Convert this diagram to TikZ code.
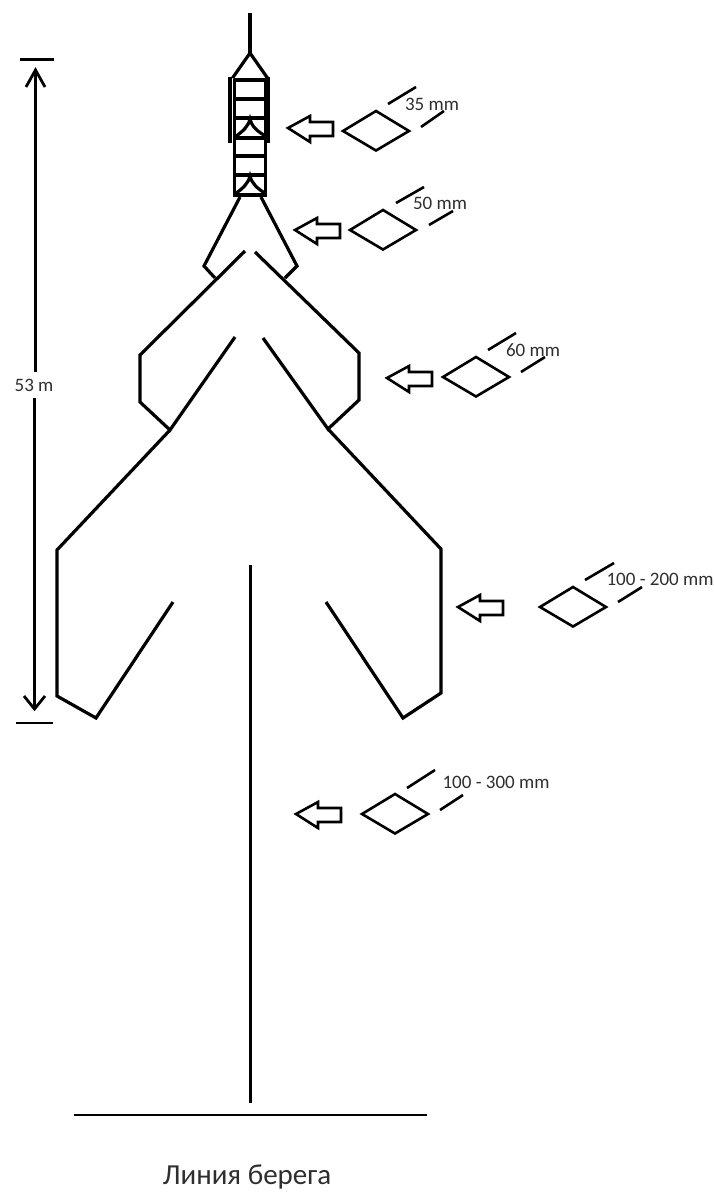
\documentclass[tikz,border=0pt]{standalone}
\usepackage{fontspec}
\setmainfont{Carlito}
\definecolor{labelgray}{HTML}{2E2E2E}
\tikzset{
  net/.style={line width=3.2pt,line join=miter,black},
  fine/.style={line width=2.7pt,black},
  gauge/.style={line width=2.6pt,line join=miter,black},
  sizelabel/.style={font=\fontsize{19}{22}\selectfont,text=labelgray,inner sep=0pt},
}
% #1 arrow tip, #2 diamond left corner, #3-#6 slash ends
\newcommand{\gaugeset}[6]{%
  \draw[gauge] #1 ++(0,0) -- ++(22,-12) -- ++(0,6) -- ++(23,0) -- ++(0,14) -- ++(-23,0) -- ++(0,6) -- cycle;
  \draw[gauge] #2 -- ++(33,-20) -- ++(33,20) -- ++(-33,19.5) -- cycle;
  \draw[gauge] #3 -- #4;
  \draw[gauge] #5 -- #6;
}
\begin{document}
\begin{tikzpicture}[x=1pt,y=-1pt]
\useasboundingbox (0,0) rectangle (714,1192);
% head rope
\draw[net] (250,13) -- (250,53);
\draw[net] (232.5,78) -- (250,53) -- (267.5,78);
% ladder
\draw[net] (234.5,79) -- (234.5,195) -- (265.5,195) -- (265.5,79);
\draw[line width=4.2pt] (230,77) -- (230,143);
\draw[line width=5pt] (267.5,77) -- (267.5,143);
\foreach \ry in {80,99,118,138,156,175}{\draw[net] (234,\ry) -- (266,\ry);}
\draw[net] (235,137) .. controls (243,131) and (248,127) .. (250,119) .. controls (252,127) and (257,131) .. (267,137);
\draw[net] (235,194) .. controls (243,188) and (248,184) .. (250,176) .. controls (252,184) and (257,188) .. (266,194);
% funnel
\draw[net] (240,197) -- (204,266) -- (215,278);
\draw[net] (261,197) -- (297,266) -- (285,278);
% second chamber
\draw[net] (245,251) -- (140,355) -- (140,402) -- (170,430) -- (235,337);
\draw[net] (255,252) -- (359,353) -- (359,400) -- (328,429) -- (263,338);
% third chamber
\draw[net] (170,430) -- (57,550) -- (57,696) -- (96,718) -- (173,602);
\draw[net] (328,429) -- (441,549) -- (441,693) -- (403,718) -- (326,602);
% leader and shore
\draw[net] (250.5,565) -- (250.5,1103);
\draw[fine] (74,1115) -- (427,1115);
% dimension
\draw[fine] (20,59.5) -- (54,59.5);
\draw[fine] (16,723) -- (53,723);
\draw[line width=3.2pt] (35.5,69) -- (35.5,372);
\draw[line width=2.8pt] (26,87) -- (35.5,70) -- (45,87);
\draw[line width=2.8pt] (34.5,398) -- (34.5,709);
\draw[line width=2.8pt] (24,696) -- (34.5,709) -- (45,696);
\node[sizelabel] (total) at (34,385) {53 m};
% gauges
\gaugeset{(288,128)}{(343,131)}{(388,104)}{(416,87)}{(421,127)}{(444,111)}
\node[sizelabel] (m35) at (432,104) {35 mm};
\gaugeset{(295,230)}{(350,230)}{(396,203)}{(424,187)}{(429,225)}{(453,211)}
\node[sizelabel] (m50) at (440,203) {50 mm};
\gaugeset{(387,378)}{(443,377)}{(488,350)}{(516,333)}{(521,372)}{(545,357)}
\node[sizelabel] (m60) at (533,350) {60 mm};
\gaugeset{(458,607)}{(540,607)}{(585,580)}{(614,563)}{(618,602)}{(642,587)}
\node[sizelabel] (m200) at (660,579) {100 - 200 mm};
\gaugeset{(296,814)}{(362,814)}{(407,788)}{(435,770)}{(440,810)}{(463,795)}
\node[sizelabel] (m300) at (496,782) {100 - 300 mm};
\node[font=\fontsize{29}{34}\selectfont,text=labelgray,inner sep=0pt] (shore) at (247,1177) {Линия берега};
\end{tikzpicture}
\end{document}
